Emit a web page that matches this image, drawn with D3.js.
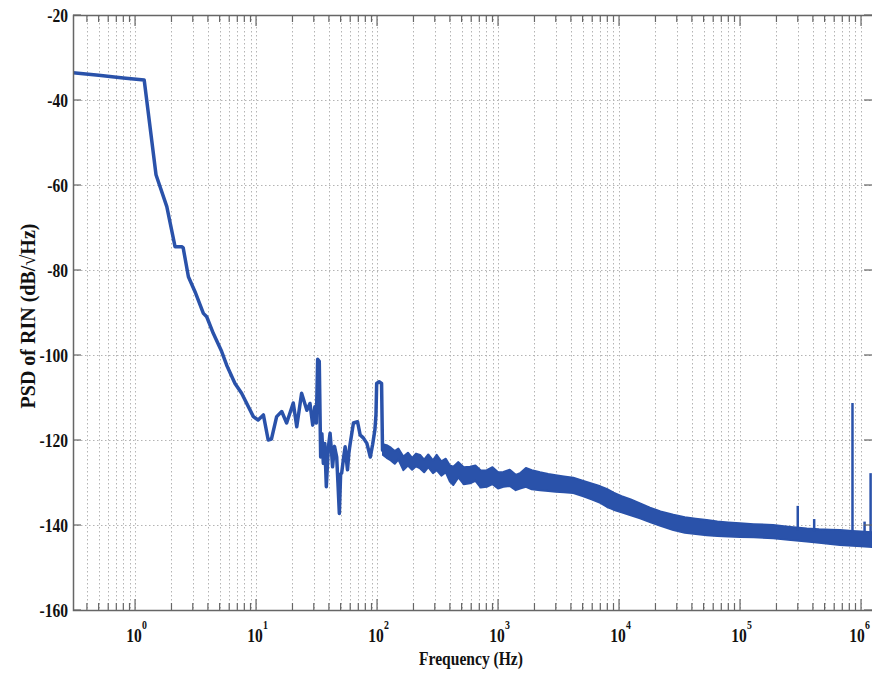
<!DOCTYPE html>
<html><head><meta charset="utf-8">
<script src="https://cdn.jsdelivr.net/npm/d3@7"></script>
<style>body{margin:0;background:#fff}svg{display:block}</style>
</head><body>
<svg id="chart" width="872" height="674"></svg>
<script>
// ---- data ----
// resolved low-frequency trace (Hz, dB)
const traceFreq = [0.307,0.5,0.8,1.19,1.49,1.83,2.14,2.43,2.5,2.76,3.13,3.67,3.91,4.43,5.2,5.72,6.7,7.6,9.5,10.4,11.5,12.6,13.4,14.8,16.3,17.9,20.3,21.7,23.8,26.3,27.9,29.4,30.6,31.5,32.3,33.3,34.2,35.0,36.0,37.0,38.1,39.5,40.9,42.0,42.9,44.5,46.4,47.5,48.8,50.0,51.0,53.0,54.5,56.0,57.0,58.5,60.0,63.8,69.0,72.5,77.0,82.4,88.0,92.0,96.0,98.0,99.3,104,109,111,114];
const tracePsd  = [-33.6,-34.2,-34.8,-35.3,-57.6,-65.1,-74.5,-74.5,-74.8,-81.6,-85.1,-90.2,-91.0,-94.9,-99.2,-102.4,-106.7,-109.0,-114.5,-115.3,-114.1,-120.0,-119.8,-114.5,-113.3,-116.0,-111.3,-116.9,-109.0,-113.0,-111.4,-116.5,-112.2,-116.0,-101.0,-101.5,-124.0,-118.5,-125.5,-120.8,-131.0,-122.0,-118.4,-122.5,-126.3,-121.5,-124.0,-130.0,-137.3,-128.0,-127.8,-124.0,-121.6,-125.0,-127.0,-123.0,-120.8,-116.0,-115.7,-118.8,-119.5,-120.8,-124.0,-121.0,-117.6,-114.0,-106.7,-106.3,-106.7,-122.4,-122.3];
// noisy band above ~110 Hz: upper and lower envelope (dB)
const bandFreq = [112,120,130,140,150,165,180,195,210,227,245,265,290,311,340,370,400,427,470,520,587,650,720,807,900,1000,1107,1250,1400,1520,1700,1900,2223,2600,3000,3500,4190,5000,6000,7000,7910,9000,10500,12500,14920,18000,22000,28100,35000,43000,53100,65000,80000,100000,130000,188000,250000,356000,450000,560000,670000,850000,1000000,1256000];
const bandHigh = [-121.0,-121.2,-121.8,-122.6,-122.0,-123.9,-123.0,-124.2,-123.2,-123.5,-124.6,-123.4,-124.8,-123.5,-125.0,-124.4,-126.0,-126.3,-125.2,-126.4,-126.3,-126.0,-127.2,-127.1,-126.4,-127.6,-127.5,-127.0,-128.2,-127.8,-126.6,-127.1,-127.6,-128.0,-128.3,-128.6,-128.9,-129.6,-130.3,-130.9,-131.5,-132.4,-133.2,-134.0,-134.9,-135.9,-136.8,-137.6,-138.2,-138.5,-138.8,-139.2,-139.4,-139.6,-139.8,-140.0,-140.4,-140.8,-141.0,-141.1,-141.2,-141.4,-141.5,-141.7];
const bandLow  = [-123.5,-124.2,-124.8,-125.6,-124.6,-127.1,-126.0,-127.0,-126.2,-126.7,-127.6,-126.4,-127.8,-127.1,-128.4,-127.6,-129.8,-130.6,-128.8,-130.4,-130.2,-129.6,-131.2,-131.0,-130.4,-131.4,-131.0,-130.8,-131.8,-131.4,-131.0,-131.6,-131.8,-132.0,-132.2,-132.3,-132.5,-133.2,-134.0,-134.8,-135.7,-136.4,-137.0,-137.7,-138.4,-139.3,-140.2,-141.2,-141.8,-142.1,-142.4,-142.6,-142.7,-142.8,-142.9,-143.1,-143.5,-143.9,-144.2,-144.5,-144.7,-144.9,-145.0,-145.2];
// narrow spurs (Hz, peak dB)
const spurFreq = [300000,410000,850000,1070000,1200000];
const spurTop  = [-135.5,-138.6,-111.3,-139.2,-127.8];
// axis ticks
const xDecades = [0,1,2,3,4,5,6];
const yTicks = [-160,-140,-120,-100,-80,-60,-40,-20];

// ---- drawing ----
const svg = d3.select("#chart");
const W = 872, H = 674;
const L = 73, R = 873, T = 15, B = 610;
const x = d3.scaleLog().domain([0.307, 1.256e6]).range([L, R]);
const y = d3.scaleLinear().domain([-160, -20]).range([B, T]);
const blue = "#2a52aa";
const font = "'Liberation Serif','Times New Roman',serif";

svg.append("rect").attr("width", W).attr("height", H).attr("fill", "#fff");

const majorX = xDecades.map(d => Math.pow(10, d));
const minorX = [];
for (let d = -1; d <= 6; d++) for (let m = 2; m <= 9; m++) {
  const f = m * Math.pow(10, d);
  if (f > x.domain()[0] && f < x.domain()[1]) minorX.push(f);
}
const gridStyle = g => g.attr("stroke", "#b4b4b4").attr("stroke-width", 1).attr("stroke-dasharray", "1.5,2.5");

const grid = svg.append("g");
grid.selectAll("line.vx").data(minorX.concat(majorX)).join("line")
  .attr("x1", d => Math.round(x(d)) + 0.5).attr("x2", d => Math.round(x(d)) + 0.5)
  .attr("y1", T).attr("y2", B).call(gridStyle);
grid.selectAll("line.hy").data(yTicks.slice(1, -1)).join("line")
  .attr("x1", L).attr("x2", R).attr("y1", d => Math.round(y(d)) + 0.5).attr("y2", d => Math.round(y(d)) + 0.5)
  .call(gridStyle);

svg.append("clipPath").attr("id", "clip").append("rect")
  .attr("x", L).attr("y", T).attr("width", R - L).attr("height", B - T);
const plot = svg.append("g").attr("clip-path", "url(#clip)");

// noisy band
const bandData = bandFreq.map((f, i) => ({f, hi: bandHigh[i], lo: bandLow[i]}));
plot.append("path").datum(bandData)
  .attr("d", d3.area().x(d => x(d.f)).y0(d => y(d.lo)).y1(d => y(d.hi)))
  .attr("fill", blue).attr("stroke", blue).attr("stroke-width", 2).attr("stroke-linejoin", "round");

// resolved trace
const traceData = traceFreq.map((f, i) => ({f, v: tracePsd[i]}));
plot.append("path").datum(traceData)
  .attr("d", d3.line().x(d => x(d.f)).y(d => y(d.v)))
  .attr("fill", "none").attr("stroke", blue).attr("stroke-width", 3.5).attr("stroke-linejoin", "round");

// spurs
const bandTopAt = f => bandHigh[Math.min(d3.bisectLeft(bandFreq, f), bandHigh.length - 1)];
plot.selectAll("line.spur").data(spurFreq.map((f, i) => ({f, top: spurTop[i]}))).join("line")
  .attr("x1", d => x(d.f)).attr("x2", d => x(d.f))
  .attr("y1", d => y(bandTopAt(d.f)) + 2).attr("y2", d => y(d.top))
  .attr("stroke", blue).attr("stroke-width", 2.5);

// frame & ticks
const axisColor = "#666";
svg.append("rect").attr("x", L + 0.5).attr("y", T + 0.5).attr("width", R - L).attr("height", B - T)
  .attr("fill", "none").attr("stroke", axisColor).attr("stroke-width", 1.5);
const tk = svg.append("g").attr("stroke", axisColor).attr("stroke-width", 1.2);
[[majorX, 11], [minorX, 7]].forEach(([arr, len]) => {
  tk.selectAll(null).data(arr).join("line")
    .attr("x1", d => x(d)).attr("x2", d => x(d)).attr("y1", B).attr("y2", B - len);
  tk.selectAll(null).data(arr).join("line")
    .attr("x1", d => x(d)).attr("x2", d => x(d)).attr("y1", T).attr("y2", T + len);
});
tk.selectAll(null).data(yTicks).join("line")
  .attr("x1", L).attr("x2", L + 8).attr("y1", d => y(d)).attr("y2", d => y(d));
tk.selectAll(null).data(yTicks).join("line")
  .attr("x1", R - 9).attr("x2", R).attr("y1", d => y(d)).attr("y2", d => y(d));

// tick labels
const sx = 0.82;
const txt = (sel, px, py, s, size, anchor) => sel.append("text")
  .attr("transform", `translate(${px},${py}) scale(${sx},1)`)
  .attr("text-anchor", anchor).attr("font-family", font).attr("font-weight", "bold")
  .attr("font-size", size).attr("fill", "#111").text(s);

const lab = svg.append("g");
yTicks.forEach(v => txt(lab, 68, y(v) + 7, String(v), 19, "end"));
xDecades.forEach(d => {
  const px = x(Math.pow(10, d));
  const shift = d === 6 ? -3 : 0;
  txt(lab, px - 1 + shift, 642, "10", 19, "middle");
  txt(lab, px + 7 + shift, 629, String(d), 12, "start");
});

// axis titles
svg.append("text").attr("transform", `translate(471,665) scale(${sx},1)`)
  .attr("text-anchor", "middle").attr("font-family", font).attr("font-weight", "bold")
  .attr("font-size", 19).attr("fill", "#111").text("Frequency (Hz)");
svg.append("text").attr("transform", `translate(35,316) rotate(-90)`)
  .attr("text-anchor", "middle").attr("font-family", font).attr("font-weight", "bold")
  .attr("font-size", 20).attr("fill", "#111").text("PSD of RIN (dB/\u221AHz)");
</script>
</body></html>
